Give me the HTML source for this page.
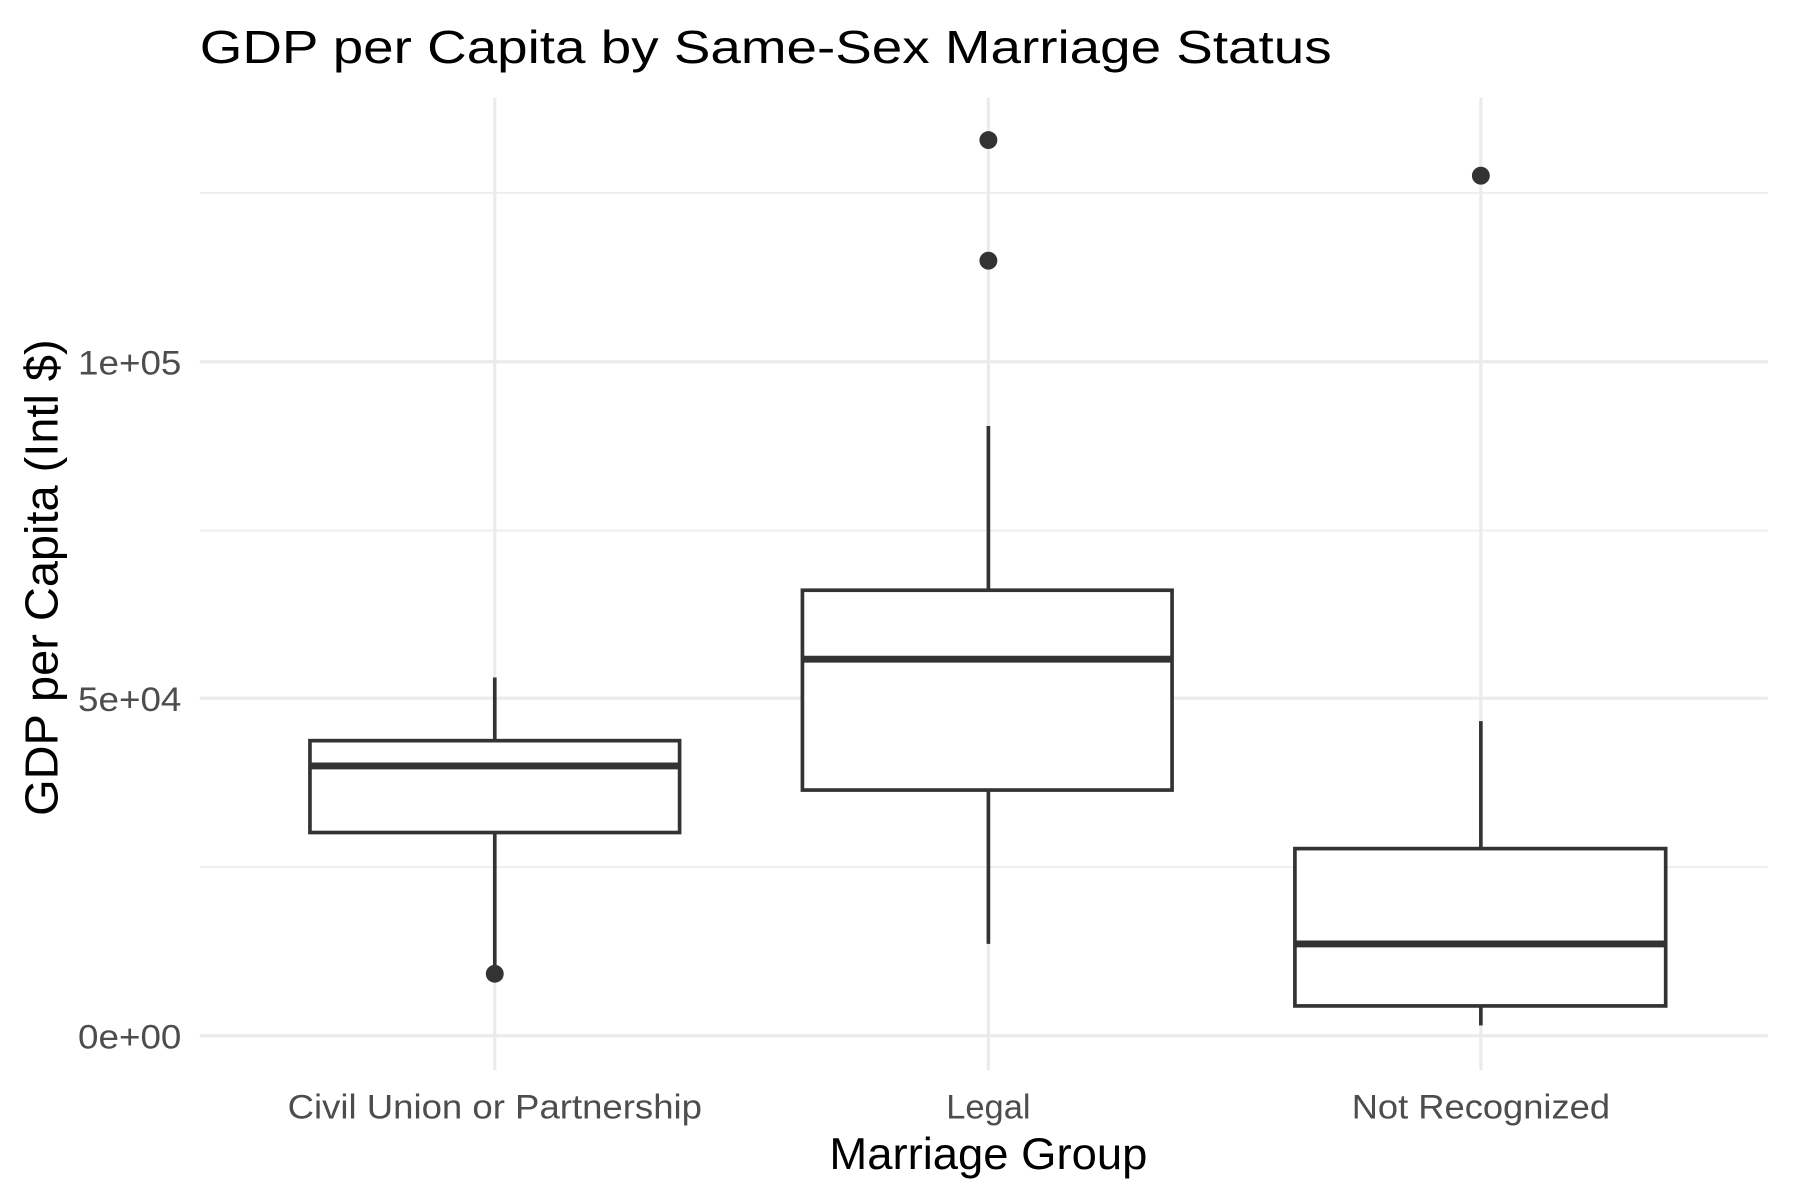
<!DOCTYPE html>
<html><head><meta charset="utf-8"><style>html,body{margin:0;padding:0;background:#fff}svg{display:block}</style></head>
<body>
<svg width="1800" height="1200" viewBox="0 0 1568 1045" preserveAspectRatio="none" xmlns="http://www.w3.org/2000/svg" font-family="Liberation Sans, Arial, sans-serif">
<rect width="1568" height="1045" fill="#fff"/>
<g stroke="#ebebeb">
<g stroke-width="1.4">
<line x1="174" y1="168" x2="1540" y2="168"/>
<line x1="174" y1="462" x2="1540" y2="462"/>
<line x1="174" y1="755" x2="1540" y2="755"/>
</g>
<g stroke-width="2.8">
<line x1="174" y1="315" x2="1540" y2="315"/>
<line x1="174" y1="608" x2="1540" y2="608"/>
<line x1="174" y1="902" x2="1540" y2="902"/>
<line x1="431" y1="85" x2="431" y2="932"/>
<line x1="861" y1="85" x2="861" y2="932"/>
<line x1="1290" y1="85" x2="1290" y2="932"/>
</g>
</g>
<g stroke="#333" stroke-width="3.2" fill="#fff">
<line x1="431" y1="590" x2="431" y2="645"/>
<line x1="431" y1="725" x2="431" y2="848"/>
<rect x="270" y="645" width="322" height="80"/>
<line x1="270" y1="667" x2="592" y2="667" stroke-width="6"/>
<line x1="861" y1="371" x2="861" y2="514"/>
<line x1="861" y1="688" x2="861" y2="822"/>
<rect x="699" y="514" width="322" height="174"/>
<line x1="699" y1="574" x2="1021" y2="574" stroke-width="6"/>
<line x1="1290" y1="628" x2="1290" y2="739"/>
<line x1="1290" y1="876" x2="1290" y2="893"/>
<rect x="1128" y="739" width="323" height="137"/>
<line x1="1128" y1="822" x2="1451" y2="822" stroke-width="6"/>
</g>
<g fill="#333">
<circle cx="431" cy="848" r="7.8"/>
<circle cx="861" cy="122" r="7.8"/>
<circle cx="861" cy="227" r="7.8"/>
<circle cx="1290" cy="153" r="7.8"/>
</g>
<text x="174" y="55" font-size="40" fill="#000" textLength="986" lengthAdjust="spacingAndGlyphs">GDP per Capita by Same-Sex Marriage Status</text>
<g font-size="30" fill="#4d4d4d" text-anchor="end">
<text x="158" y="326" textLength="90" lengthAdjust="spacingAndGlyphs">1e+05</text>
<text x="158" y="619" textLength="90" lengthAdjust="spacingAndGlyphs">5e+04</text>
<text x="158" y="913" textLength="90" lengthAdjust="spacingAndGlyphs">0e+00</text>
</g>
<g font-size="30" fill="#4d4d4d" text-anchor="middle">
<text x="431" y="974" textLength="361" lengthAdjust="spacingAndGlyphs">Civil Union or Partnership</text>
<text x="861" y="974">Legal</text>
<text x="1290" y="974" textLength="225" lengthAdjust="spacingAndGlyphs">Not Recognized</text>
</g>
<text x="861" y="1018" font-size="39" text-anchor="middle" fill="#000" textLength="277" lengthAdjust="spacingAndGlyphs">Marriage Group</text>
<text transform="translate(50,503) rotate(-90)" font-size="40" text-anchor="middle" fill="#000" textLength="415" lengthAdjust="spacingAndGlyphs">GDP per Capita (Intl $)</text>
</svg>
</body></html>
